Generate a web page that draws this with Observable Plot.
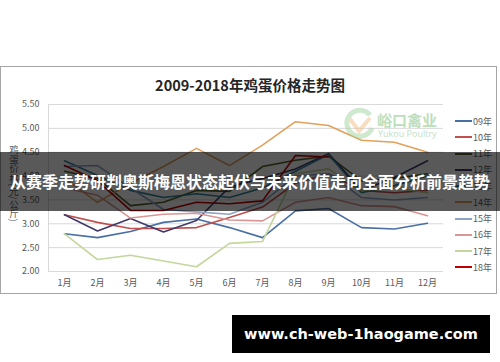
<!DOCTYPE html>
<html><head><meta charset="utf-8">
<script src="https://cdn.jsdelivr.net/npm/d3@7"></script>
<script src="https://cdn.jsdelivr.net/npm/@observablehq/plot@0.6"></script>
<style>
body{margin:0;background:#fff;width:500px;height:362px;overflow:hidden;position:relative;font-family:"Noto Sans CJK SC","Noto Sans",sans-serif;}
#frame{position:absolute;left:0;top:66px;width:497px;height:228px;border:1px solid #a6a6a6;box-sizing:border-box;}
#title{position:absolute;left:0;width:500px;top:75px;text-align:center;font-size:14.5px;font-weight:bold;color:#262626;line-height:20px;}
#ylab{position:absolute;left:8px;top:145px;writing-mode:vertical-rl;font-size:9.5px;color:#595959;line-height:11px;}
#chart{position:absolute;left:0;top:90px;}
#legend{position:absolute;left:455px;top:113px;font-size:9px;color:#595959;}
.row{height:16.25px;display:flex;align-items:center;}
.sw{width:17px;height:0;border-top:2px solid;margin-right:1px;}
#logo{position:absolute;left:343px;top:107px;opacity:0.5;}
#logotxt{position:absolute;left:377px;top:111px;color:#8fcb8f;font-size:15px;font-weight:bold;line-height:18px;opacity:0.6;}
#logoen{position:absolute;left:378px;top:129px;color:#b5d9b5;font-size:9px;line-height:10px;font-family:"Open Sans",sans-serif;opacity:0.8;}
#banner{position:absolute;left:0;top:152px;width:500px;height:59px;background:rgba(0,0,0,0.65);color:#fff;font-size:16px;font-weight:bold;text-align:center;line-height:59px;white-space:nowrap;}
#site{position:absolute;left:232px;top:315px;width:258px;height:38px;background:#000;color:#fff;font-family:"DejaVu Sans",sans-serif;font-weight:bold;font-size:14.5px;line-height:38px;text-align:center;}
</style></head><body>
<div id="frame"></div>
<div id="title">2009-2018年鸡蛋价格走势图</div>
<div id="ylab">鸡蛋价格(元/公斤)</div>
<div id="chart"></div>
<div id="legend"></div>
<svg id="logo" width="34" height="32"><path d="M27 8 A13 13 0 1 0 29 21" fill="none" stroke="#9fd59f" stroke-width="5"/><path d="M7 12 L16 24 L27 11" fill="none" stroke="#f2bd85" stroke-width="4"/></svg>
<div id="logotxt">峪口禽业</div>
<div id="logoen">Yukou Poultry</div>
<div id="banner">从赛季走势研判奥斯梅恩状态起伏与未来价值走向全面分析前景趋势</div>
<div id="site">www.ch-web-1haogame.com</div>
<script>
const months = ["1月","2月","3月","4月","5月","6月","7月","8月","9月","10月","11月","12月"];
const years = ["09年","10年","11年","12年","13年","14年","15年","16年","17年","18年"];
const colors = ["#4a6fa5","#c0504d","#4f6228","#3f3a6a","#31859c","#e3a05a","#8ea4c8","#d99694","#c3d69b","#c00000"];
const yTicks = [2.0,2.5,3.0,3.5,4.0,4.5,5.0,5.5];

const s09 = [2.79,2.71,2.84,3.03,3.10,2.92,2.71,3.27,3.32,2.92,2.89,3.01];
const s10 = [3.19,3.03,2.90,2.90,2.92,3.13,3.35,3.85,4.05,3.70,3.65,3.70];
const s11 = [4.10,3.95,3.38,3.45,3.70,3.68,4.20,4.33,4.42,3.90,3.95,4.05];
const s12 = [3.19,2.85,3.11,2.83,3.07,3.77,3.95,4.15,4.47,3.70,3.97,4.32];
const s13 = [4.32,4.01,3.70,3.55,3.63,3.55,3.75,4.10,4.45,3.65,3.80,4.00];
const s14 = [3.95,3.45,3.85,4.20,4.58,4.22,4.65,5.14,5.06,4.75,4.71,4.50];
const s15 = [4.20,4.22,3.75,3.30,3.25,3.20,3.45,4.00,4.05,3.55,3.50,3.55];
const s16 = [3.75,3.60,3.12,3.20,3.22,3.08,3.06,3.45,3.55,3.38,3.36,3.17];
const s17 = [2.79,2.25,2.34,2.22,2.10,2.59,2.63,4.05,4.15,3.70,3.75,3.65];
const s18 = [4.22,3.90,3.28,3.28,3.45,3.42,3.48,4.43,4.40,null,null,null];

const series = [s09,s10,s11,s12,s13,s14,s15,s16,s17,s18];
const data = [];
series.forEach((s,i)=>s.forEach((v,j)=>{ if(v!=null) data.push({year:years[i],month:months[j],value:v}); }));

const chart = Plot.plot({
  width: 450, height: 206,
  marginLeft: 48, marginRight: 7, marginTop: 14, marginBottom: 25,
  style: {fontFamily: '"Noto Sans CJK SC", sans-serif', fontSize: "9px", color: "#595959", background: "transparent", overflow: "visible"},
  x: {type: "point", domain: months, padding: 0.45},
  y: {domain: [2, 5.5]},
  color: {domain: years, range: colors},
  marks: [
    Plot.gridY(yTicks, {stroke: "#d9d9d9", strokeOpacity: 1, strokeWidth: 1}),
    Plot.frame({anchor: "left", stroke: "#d9d9d9"}),
    Plot.axisY(yTicks, {tickSize: 0, tickPadding: 9, tickFormat: d3.format(".2f"), label: null, fill: "#595959"}),
    Plot.axisX({tickSize: 0, tickPadding: 8, label: null, fill: "#595959"}),
    Plot.line(data, {x: "month", y: "value", z: "year", stroke: "year", strokeWidth: 1.6})
  ]
});
document.getElementById("chart").appendChild(chart);

const lg = document.getElementById("legend");
years.forEach((y,i)=>{
  const r = document.createElement("div"); r.className = "row";
  const s = document.createElement("span"); s.className = "sw"; s.style.borderColor = colors[i];
  const t = document.createElement("span"); t.textContent = y;
  r.appendChild(s); r.appendChild(t); lg.appendChild(r);
});
</script>
</body></html>
